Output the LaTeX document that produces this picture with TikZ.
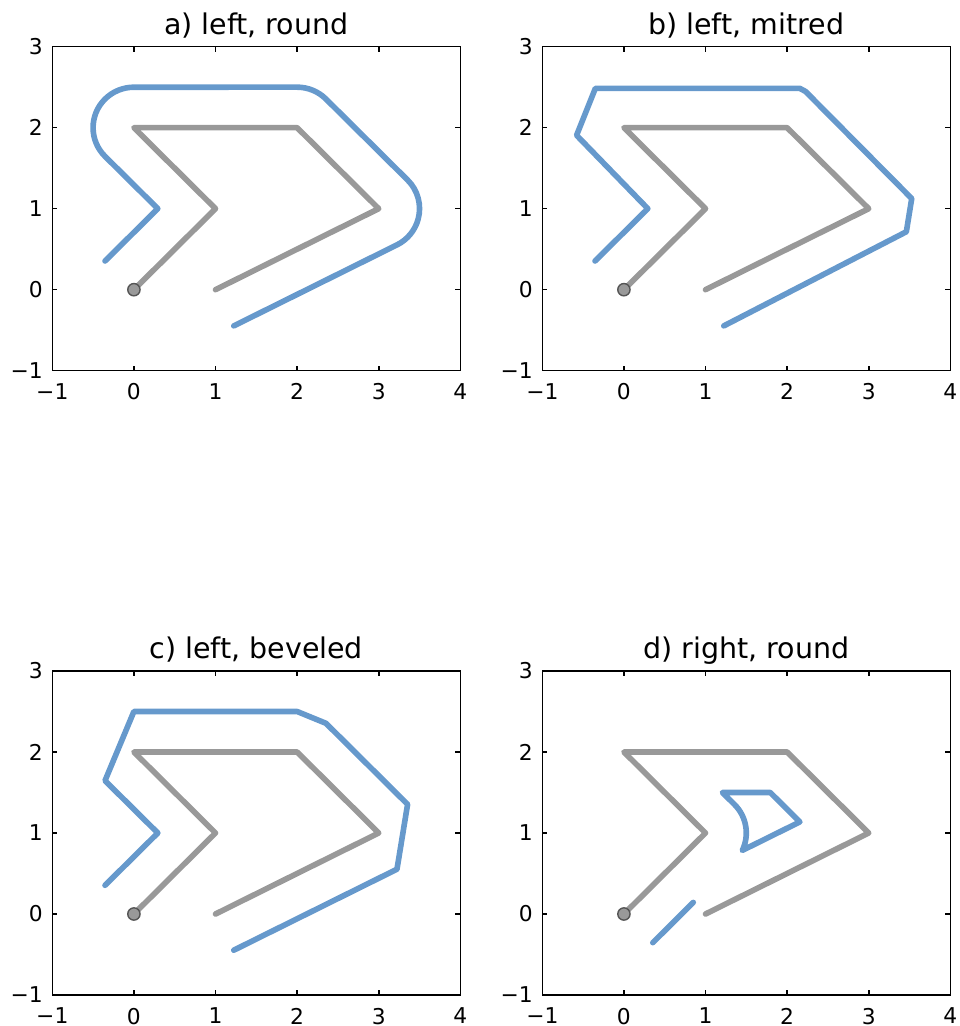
\documentclass[tikz,border=0pt]{standalone}
\usepackage{fontspec}
\setmainfont{DejaVu Sans}
\usepackage{xcolor}
\usepackage{tikz}
\definecolor{shpblue}{HTML}{6699CC}
\definecolor{shpgray}{HTML}{999999}
\definecolor{shpedge}{HTML}{555555}
% frame, ticks, tick labels, title and the original line of one panel
\newcommand{\plotpanel}[2]{%
  \draw[frame] (-1,-1) rectangle (4,3);
  \foreach \v in {0,...,3} {
    \draw[frame] (\v,-1) -- ++(0,0.06);
    \draw[frame] (\v,3) -- ++(0,-0.06);
  }
  \foreach \v in {0,1,2} {
    \draw[frame] (-1,\v) -- ++(0.06,0);
    \draw[frame] (4,\v) -- ++(-0.06,0);
  }
  \foreach \v/\lb [count=\k] in {-1/−1,0/0,1/1,2/2,3/3,4/4}
    \node[tck,anchor=north] (#1x\k) at (\v,-1.15) {\lb};
  \foreach \v/\lb [count=\k] in {-1/−1,0/0,1/1,2/2,3/3}
    \node[tck,anchor=east] (#1y\k) at (-1.11,\v) {\lb};
  \node[ttl] (#1t) at (1.5,3.155) {#2};
  \draw[orig] (0,0) -- (1,1) -- (0,2) -- (2,2) -- (3,1) -- (1,0);
  \node[vtx] (#1o) at (0,0) {};
}

\begin{document}
\begin{tikzpicture}[
    frame/.style={draw=black,line width=0.45pt},
    orig/.style={shpgray,line width=1.6pt,line cap=round,line join=round},
    offs/.style={shpblue,line width=1.6pt,line cap=round,line join=round},
    vtx/.style={circle,draw=shpedge,fill=shpgray,line width=0.4pt,minimum size=3.5pt,inner sep=0pt},
    ttl/.style={font=\fontsize{8.1}{9.7}\selectfont,anchor=base,inner sep=0pt},
    tck/.style={font=\fontsize{6.2}{7.4}\selectfont,inner sep=0pt}]
\useasboundingbox (0,0) rectangle (9.59,10.26);
% a) left, round
\begin{scope}[shift={(1.339cm,7.363cm)},x=0.816cm,y=0.81cm]
  \plotpanel{a}{a) left, round}
  \draw[offs] (-0.354,0.354) -- (0.293,1.0) -- (-0.354,1.646)
    arc[start angle=225,end angle=90,radius=0.5] -- (2,2.5)
    arc[start angle=90,end angle=45,radius=0.5] -- (3.354,1.354)
    arc[start angle=45,end angle=-63.43,radius=0.5] -- (1.224,-0.447);
\end{scope}
% b) left, mitred
\begin{scope}[shift={(6.239cm,7.363cm)},x=0.816cm,y=0.81cm]
  \plotpanel{b}{b) left, mitred}
  \draw[offs] (-0.354,0.354) -- (0.293,1.0) -- (-0.580,1.906) -- (-0.350,2.485)
    -- (2.156,2.485) -- (2.226,2.447) -- (3.527,1.125) -- (3.461,0.715) -- (1.224,-0.447);
\end{scope}
% c) left, beveled
\begin{scope}[shift={(1.339cm,1.12cm)},x=0.816cm,y=0.81cm]
  \plotpanel{c}{c) left, beveled}
  \draw[offs] (-0.354,0.354) -- (0.293,1.0) -- (-0.354,1.646) -- (0,2.5)
    -- (2,2.5) -- (2.354,2.354) -- (3.354,1.354) -- (3.224,0.553) -- (1.224,-0.447);
\end{scope}
% d) right, round
\begin{scope}[shift={(6.239cm,1.12cm)},x=0.816cm,y=0.81cm]
  \plotpanel{d}{d) right, round}
  \draw[offs] (0.354,-0.354) -- (0.85,0.143);
  \draw[offs] (1.451,0.785) arc[start angle=-25.5,end angle=45,radius=0.5]
    -- (1.207,1.5) -- (1.793,1.5) -- (2.156,1.137) -- cycle;
\end{scope}
\end{tikzpicture}
\end{document}
